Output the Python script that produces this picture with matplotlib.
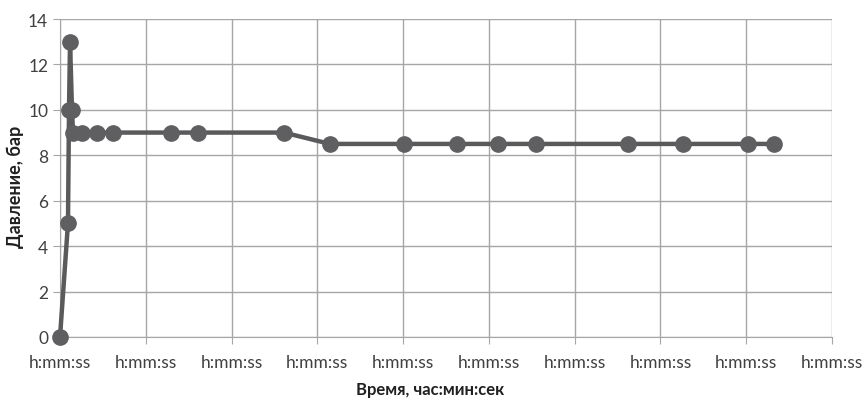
import matplotlib
matplotlib.use("Agg")
import matplotlib.pyplot as plt

# time positions (in grid-interval units) and pressure values
time_units = [0, 0.093, 0.105, 0.117, 0.14, 0.152, 0.256, 0.431, 0.618, 1.294, 1.608, 2.611,
              3.147, 4.009, 4.627, 5.105, 5.548, 6.620, 7.261, 8.018, 8.322]
pressure = [0, 5, 10, 13, 10, 9, 9, 9, 9, 9, 9, 9,
            8.5, 8.5, 8.5, 8.5, 8.5, 8.5, 8.5, 8.5, 8.5]
x_ticks = list(range(10))
x_tick_labels = ["h:mm:ss"] * 10
y_ticks = list(range(0, 15, 2))

plt.rcParams['font.family'] = ['Lato', 'DejaVu Sans']

fig = plt.figure(figsize=(8.68, 4.02), dpi=100)
ax = fig.add_axes([60/868, 1-338/402, (832-60)/868, (338-20)/402])

ax.plot(time_units, pressure, color='#5a5a5c', lw=3.2, marker='o', ms=11,
        markerfacecolor='#5f5f62', markeredgecolor='#5f5f62', zorder=3, clip_on=False)

ax.set_xlim(0, 9)
ax.set_ylim(0, 14)
ax.set_xticks(x_ticks)
ax.set_xticklabels(x_tick_labels)
ax.set_yticks(y_ticks)
ax.grid(True, color='#a6a6a6', lw=1.0)
ax.set_axisbelow(True)
for s in ['top', 'right']:
    ax.spines[s].set_visible(False)
for s in ['left', 'bottom']:
    ax.spines[s].set_color('#a6a6a6')
ax.tick_params(axis='both', colors='#a6a6a6', labelcolor='#404040', labelsize=12.5, length=5)
ax.tick_params(axis='x', pad=7)
ax.set_ylabel("Давление, бар", fontsize=13, fontweight='bold', color='#202020')
ax.set_xlabel("Время, час:мин:сек", fontsize=12, fontweight='bold', color='#202020')
ax.yaxis.set_label_coords(-36/772, (338-187)/318)
ax.xaxis.set_label_coords((430-60)/772, -(382-338)/318)

fig.savefig("out.png", dpi=100)
